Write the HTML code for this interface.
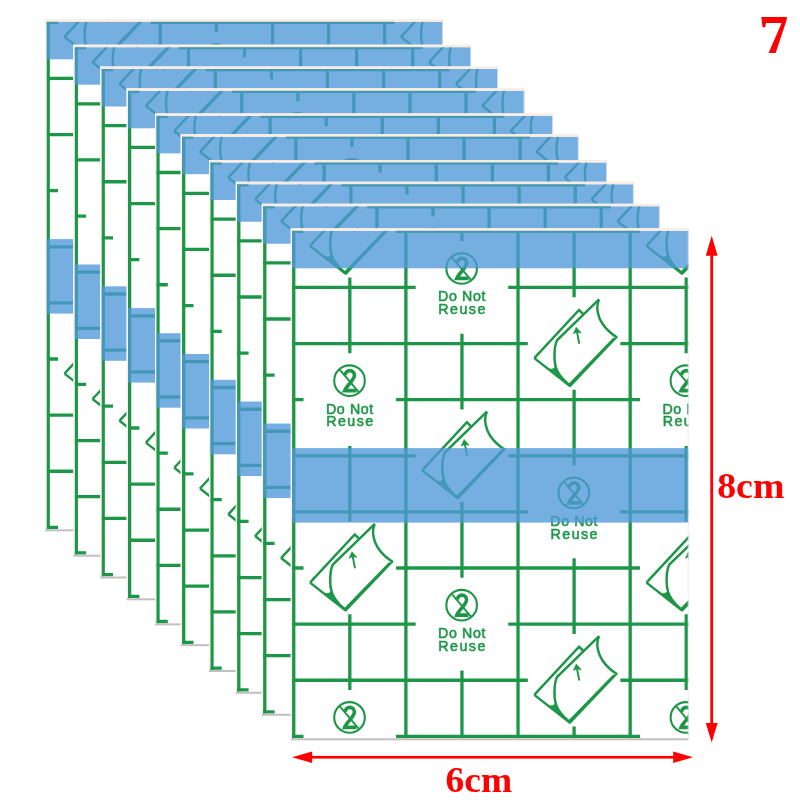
<!DOCTYPE html>
<html><head><meta charset="utf-8"><title>7</title>
<style>
html,body{margin:0;padding:0;background:#fff;}
body{width:800px;height:800px;overflow:hidden;font-family:"Liberation Sans",sans-serif;}
svg{display:block;will-change:transform}
.lbl{font-family:"Liberation Serif",serif;font-weight:bold;fill:#ff0000;}
.dn{font-family:"Liberation Sans",sans-serif;font-size:14.2px;fill:#1d9747;stroke:#1d9747;stroke-width:0.55;}
</style></head><body>
<svg width="800" height="800" viewBox="0 0 800 800">
<defs>
<clipPath id="cc"><rect x="1.2" y="2.5" width="396.55" height="507.5"/></clipPath>
<g id="dnr" fill="none" stroke="#1d9747">
  <circle cx="-0.3" cy="-19.0" r="15.3" stroke-width="2.1"/>
  <path d="M-4.6 -24.4C-4.6 -30.6 4.6 -30.6 4.6 -24.4C4.6 -19.5 -3 -14.5 -5.2 -9H6.6" stroke-width="3.6" stroke-linejoin="miter"/>
  <path d="M-10.4 -30.4 L9 -7.6" stroke-width="1.9"/>
  <g><text class="dn" x="-0.2" y="13.9" text-anchor="middle" textLength="47.3" lengthAdjust="spacing">Do Not</text>
  <text class="dn" x="-0.1" y="26.8" text-anchor="middle" textLength="47" lengthAdjust="spacing">Reuse</text></g>
</g>
<g id="peel" fill="none" stroke="#1d9747" stroke-width="2.45" stroke-linejoin="miter" transform="translate(1.2 0)">
  <path d="M-41 14.6L3.75 -33.5L7.75 -29.75"/>
  <path d="M23.75 -44.1L-18.1 -3.5C-21.5 3 -21.5 17 -19.4 24C-17 32 -11 37 -6 41.5"/>
  <path d="M23.75 -44.1C20 -36 23 -26 27 -20C31 -14 37 -9 41.9 -6"/>
  <path d="M-41 14.6L-5 42.75"/>
  <path d="M42.6 -6.2L-4.8 43.6L-7.2 40.6L37.6 -5.6Z" fill="#1d9747" stroke="none"/>
  <path d="M-27.5 25.3C-23.5 26.3 -20.8 25.3 -19.2 22.6C-17 32 -11 37 -5 42.75Z" fill="#1d9747" stroke-width="0.8"/>
  <path d="M4 0.2L1.6 -12" stroke-width="1.9"/><path d="M0.9 -16.2L-2 -9.8L1.8 -11.4L6 -10.6Z" fill="#1d9747" stroke-width="0.6"/>
</g>
<g id="card">
  <rect x="0" y="0" width="397.75" height="512.0" fill="#fff"/>
  <path d="M3.00 2.50L3.00 3.00M3.00 3.00L3.00 59.12M3.00 59.12L3.00 115.24M3.00 115.24L3.00 171.36M3.00 171.36L3.00 227.48M3.00 227.48L3.00 283.60M3.00 283.60L3.00 339.72M3.00 339.72L3.00 395.84M3.00 395.84L3.00 451.96M3.00 451.96L3.00 508.08M3.00 508.08L3.00 510.00M59.07 49.32L59.07 59.12M59.07 59.12L59.07 115.24M59.07 115.24L59.07 125.04M59.07 217.68L59.07 227.48M59.07 227.48L59.07 283.60M59.07 283.60L59.07 293.40M59.07 386.04L59.07 395.84M59.07 395.84L59.07 451.96M59.07 451.96L59.07 461.76M115.14 2.50L115.14 3.00M115.14 3.00L115.14 59.12M115.14 59.12L115.14 115.24M115.14 115.24L115.14 171.36M115.14 171.36L115.14 227.48M115.14 227.48L115.14 283.60M115.14 283.60L115.14 339.72M115.14 339.72L115.14 395.84M115.14 395.84L115.14 451.96M115.14 451.96L115.14 508.08M115.14 508.08L115.14 510.00M171.21 2.50L171.21 3.00M171.21 3.00L171.21 12.80M171.21 105.44L171.21 115.24M171.21 115.24L171.21 171.36M171.21 171.36L171.21 181.16M171.21 273.80L171.21 283.60M171.21 283.60L171.21 339.72M171.21 339.72L171.21 349.52M171.21 442.16L171.21 451.96M171.21 451.96L171.21 508.08M171.21 508.08L171.21 510.00M227.28 2.50L227.28 3.00M227.28 3.00L227.28 59.12M227.28 59.12L227.28 115.24M227.28 115.24L227.28 171.36M227.28 171.36L227.28 227.48M227.28 227.48L227.28 283.60M227.28 283.60L227.28 339.72M227.28 339.72L227.28 395.84M227.28 395.84L227.28 451.96M227.28 451.96L227.28 508.08M227.28 508.08L227.28 510.00M283.35 2.50L283.35 3.00M283.35 3.00L283.35 59.12M283.35 59.12L283.35 68.92M283.35 161.56L283.35 171.36M283.35 171.36L283.35 227.48M283.35 227.48L283.35 237.28M283.35 329.92L283.35 339.72M283.35 339.72L283.35 395.84M283.35 395.84L283.35 405.64M283.35 498.28L283.35 508.08M283.35 508.08L283.35 510.00M339.42 2.50L339.42 3.00M339.42 3.00L339.42 59.12M339.42 59.12L339.42 115.24M339.42 115.24L339.42 171.36M339.42 171.36L339.42 227.48M339.42 227.48L339.42 283.60M339.42 283.60L339.42 339.72M339.42 339.72L339.42 395.84M339.42 395.84L339.42 451.96M339.42 451.96L339.42 508.08M339.42 508.08L339.42 510.00M395.49 49.32L395.49 59.12M395.49 59.12L395.49 115.24M395.49 115.24L395.49 125.04M395.49 217.68L395.49 227.48M395.49 227.48L395.49 283.60M395.49 283.60L395.49 293.40M395.49 386.04L395.49 395.84M395.49 395.84L395.49 451.96M395.49 451.96L395.49 461.76M1.20 3.00L3.00 3.00M3.00 3.00L12.80 3.00M105.34 3.00L115.14 3.00M115.14 3.00L171.21 3.00M171.21 3.00L227.28 3.00M227.28 3.00L283.35 3.00M283.35 3.00L339.42 3.00M339.42 3.00L349.22 3.00M1.20 59.12L3.00 59.12M3.00 59.12L59.07 59.12M59.07 59.12L115.14 59.12M115.14 59.12L124.94 59.12M217.48 59.12L227.28 59.12M227.28 59.12L283.35 59.12M283.35 59.12L339.42 59.12M339.42 59.12L395.49 59.12M395.49 59.12L397.75 59.12M1.20 115.24L3.00 115.24M3.00 115.24L59.07 115.24M59.07 115.24L115.14 115.24M115.14 115.24L171.21 115.24M171.21 115.24L227.28 115.24M227.28 115.24L237.08 115.24M329.62 115.24L339.42 115.24M339.42 115.24L395.49 115.24M395.49 115.24L397.75 115.24M1.20 171.36L3.00 171.36M3.00 171.36L12.80 171.36M105.34 171.36L115.14 171.36M115.14 171.36L171.21 171.36M171.21 171.36L227.28 171.36M227.28 171.36L283.35 171.36M283.35 171.36L339.42 171.36M339.42 171.36L349.22 171.36M1.20 227.48L3.00 227.48M3.00 227.48L59.07 227.48M59.07 227.48L115.14 227.48M115.14 227.48L124.94 227.48M217.48 227.48L227.28 227.48M227.28 227.48L283.35 227.48M283.35 227.48L339.42 227.48M339.42 227.48L395.49 227.48M395.49 227.48L397.75 227.48M1.20 283.60L3.00 283.60M3.00 283.60L59.07 283.60M59.07 283.60L115.14 283.60M115.14 283.60L171.21 283.60M171.21 283.60L227.28 283.60M227.28 283.60L237.08 283.60M329.62 283.60L339.42 283.60M339.42 283.60L395.49 283.60M395.49 283.60L397.75 283.60M1.20 339.72L3.00 339.72M3.00 339.72L12.80 339.72M105.34 339.72L115.14 339.72M115.14 339.72L171.21 339.72M171.21 339.72L227.28 339.72M227.28 339.72L283.35 339.72M283.35 339.72L339.42 339.72M339.42 339.72L349.22 339.72M1.20 395.84L3.00 395.84M3.00 395.84L59.07 395.84M59.07 395.84L115.14 395.84M115.14 395.84L124.94 395.84M217.48 395.84L227.28 395.84M227.28 395.84L283.35 395.84M283.35 395.84L339.42 395.84M339.42 395.84L395.49 395.84M395.49 395.84L397.75 395.84M1.20 451.96L3.00 451.96M3.00 451.96L59.07 451.96M59.07 451.96L115.14 451.96M115.14 451.96L171.21 451.96M171.21 451.96L227.28 451.96M227.28 451.96L237.08 451.96M329.62 451.96L339.42 451.96M339.42 451.96L395.49 451.96M395.49 451.96L397.75 451.96M1.20 508.08L3.00 508.08M3.00 508.08L12.80 508.08M105.34 508.08L115.14 508.08M115.14 508.08L171.21 508.08M171.21 508.08L227.28 508.08M227.28 508.08L283.35 508.08M283.35 508.08L339.42 508.08M339.42 508.08L349.22 508.08" stroke="#1d9747" stroke-width="3.3" fill="none"/>
  <g clip-path="url(#cc)"><use href="#peel" x="59.07" y="3.00"/><use href="#dnr" x="59.07" y="171.36"/><use href="#peel" x="59.07" y="339.72"/><use href="#dnr" x="59.07" y="508.08"/><use href="#dnr" x="171.21" y="59.12"/><use href="#peel" x="171.21" y="227.48"/><use href="#dnr" x="171.21" y="395.84"/><use href="#peel" x="283.35" y="115.24"/><use href="#dnr" x="283.35" y="283.60"/><use href="#peel" x="283.35" y="451.96"/><use href="#peel" x="395.49" y="3.00"/><use href="#dnr" x="395.49" y="171.36"/><use href="#peel" x="395.49" y="339.72"/><use href="#dnr" x="395.49" y="508.08"/></g>
  <rect x="1.2" y="2.5" width="396.55" height="37.5" fill="#4e98da" opacity="0.78"/>
  <rect x="1.2" y="219.8" width="396.55" height="74.5" fill="#4e98da" opacity="0.78"/>
  <rect x="0" y="0" width="397.75" height="2.5" fill="#fbece2"/>
  <rect x="0" y="0" width="1.2" height="512.0" fill="#faf0ea"/>
  <rect x="0" y="510.0" width="397.75" height="2" fill="#c2bfc2"/>
  <rect x="397.05" y="0" width="0.7" height="512.0" fill="#e8e4e6"/>
</g>
</defs>
<rect width="800" height="800" fill="#fff"/>
<use href="#card" x="45.2" y="19.3"/>
<use href="#card" x="73.3" y="44.7"/>
<use href="#card" x="100.2" y="66.5"/>
<use href="#card" x="126.6" y="88.3"/>
<use href="#card" x="155.0" y="113.4"/>
<use href="#card" x="180.7" y="134.2"/>
<use href="#card" x="209.0" y="160.0"/>
<use href="#card" x="235.8" y="181.75"/>
<use href="#card" x="261.8" y="203.75"/>
<use href="#card" x="290.75" y="228.3"/>
<g fill="#ff0000" stroke="none">
  <rect x="710.3" y="250" width="2.8" height="480"/>
  <path d="M711.7 235.8L717.6 255.8H705.8Z"/>
  <path d="M711.7 742.4L717.6 723H705.8Z"/>
  <rect x="305" y="755.9" width="375" height="2.7"/>
  <path d="M292 757.3L312.2 751.5V763.1Z"/>
  <path d="M693 757.3L673.2 751.5V763.1Z"/>
</g>
<text class="lbl" transform="translate(762.3 53) skewX(7)" x="0" y="0" font-size="55" textLength="30.3" lengthAdjust="spacingAndGlyphs">7</text>
<text class="lbl" x="717.2" y="498" font-size="36.3" textLength="67.2" lengthAdjust="spacingAndGlyphs">8cm</text>
<text class="lbl" x="445.6" y="792" font-size="36.3" textLength="66.6" lengthAdjust="spacingAndGlyphs">6cm</text>
</svg>
</body></html>
